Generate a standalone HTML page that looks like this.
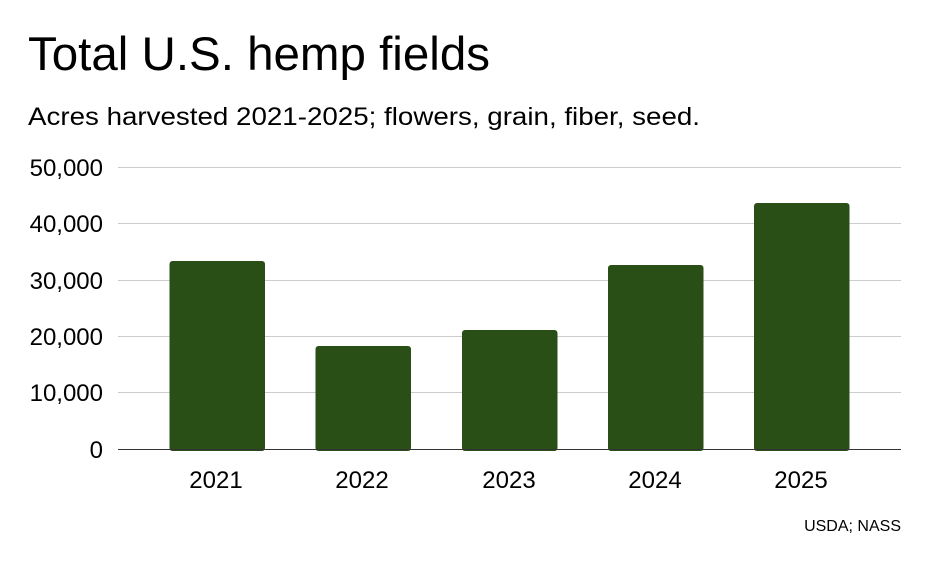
<!DOCTYPE html>
<html><head><style>
body{margin:0;background:#fff;}
svg{display:block;font-family:"Liberation Sans",Arial,sans-serif;}
</style></head><body>
<svg width="929" height="563" viewBox="0 0 929 563">
<rect width="929" height="563" fill="#fff"/>
<text x="28" y="70" font-size="47" fill="#000" textLength="462" lengthAdjust="spacingAndGlyphs">Total U.S. hemp fields</text>
<text x="28" y="125" font-size="25" fill="#000" textLength="672" lengthAdjust="spacingAndGlyphs">Acres harvested 2021-2025; flowers, grain, fiber, seed.</text>
<g stroke="#cccccc" stroke-width="1">
<line x1="118" x2="901" y1="167.5" y2="167.5"/>
<line x1="118" x2="901" y1="223.5" y2="223.5"/>
<line x1="118" x2="901" y1="280.5" y2="280.5"/>
<line x1="118" x2="901" y1="336.5" y2="336.5"/>
<line x1="118" x2="901" y1="392.5" y2="392.5"/>
</g>
<g font-size="24" fill="#000" text-anchor="end">
<text x="103" y="176">50,000</text>
<text x="103" y="232">40,000</text>
<text x="103" y="289">30,000</text>
<text x="103" y="345">20,000</text>
<text x="103" y="401">10,000</text>
<text x="103" y="458">0</text>
</g>
<g fill="#2a4f16">
<rect x="169.5" y="261" width="95.5" height="190" rx="3"/>
<rect x="315.5" y="346" width="95.5" height="105" rx="3"/>
<rect x="462" y="330" width="95.5" height="121" rx="3"/>
<rect x="608" y="265" width="95.5" height="186" rx="3"/>
<rect x="754" y="203" width="95.5" height="248" rx="3"/>
</g>
<line x1="118" x2="901" y1="449.5" y2="449.5" stroke="#333" stroke-width="1"/>
<g font-size="24" fill="#000" text-anchor="middle">
<text x="216" y="488">2021</text>
<text x="362" y="488">2022</text>
<text x="509" y="488">2023</text>
<text x="655" y="488">2024</text>
<text x="801" y="488">2025</text>
</g>
<text x="901" y="531" font-size="16" text-anchor="end" fill="#000">USDA; NASS</text>
</svg>
</body></html>
